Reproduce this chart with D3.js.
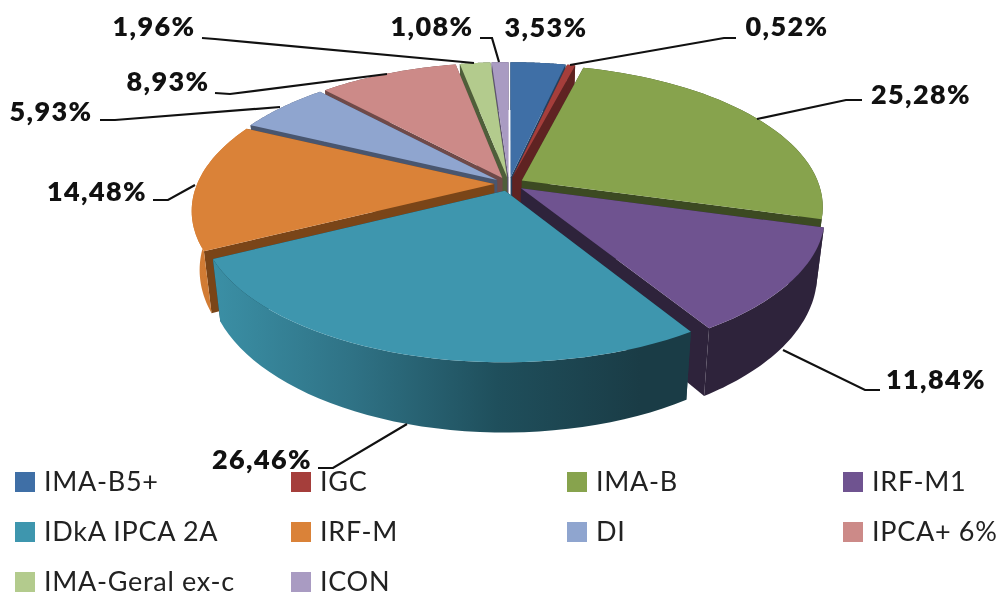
<!DOCTYPE html>
<html><head><meta charset="utf-8">
<script src="https://cdn.jsdelivr.net/npm/d3@7"></script>
<style>html,body{margin:0;padding:0;background:#fff;overflow:hidden}svg{display:block;filter:blur(.7px)}text{font-family:Lato,"Open Sans",sans-serif}</style>
</head><body><svg id="c" width="998" height="592"></svg>
<script>
const categories=["IMA-B5+","IGC","IMA-B","IRF-M1","IDkA IPCA 2A","IRF-M","DI","IPCA+ 6%","IMA-Geral ex-c","ICON"];
const values=[3.53,0.52,25.28,11.84,26.46,14.48,5.93,8.93,1.96,1.08];
const valueLabels=["3,53%","0,52%","25,28%","11,84%","26,46%","14,48%","5,93%","8,93%","1,96%","1,08%"];
const topColors=["#3f6fa6","#a53e3b","#87a34d","#6f5390","#3e96ae","#da8238","#8fa5cf","#cc8a88","#b3cb8d","#a99bc2"];
const wallColors=["#24405f","#5f2322","#3c4a22","#2e233b","#1a3c46","#7a4518","#49566f","#6f4a49","#4f5e3a","#5d5370"];
const paintOrder=[0,9,1,8,7,6,2,5,3,4];
// label layout: text anchor point, leader elbow, leader end
const labelLayout=[
 {x:546,y:28},
 {x:787,y:27,l:[[736,38],[724,38],[570,65]]},
 {x:921,y:95,l:[[862,100],[846,100],[757,119]]},
 {x:936,y:380,l:[[880,390],[865,390],[783,350]]},
 {x:262,y:460,l:[[318,468],[333,468],[407,424]]},
 {x:97,y:192,l:[[153,200],[168,200],[195,185]]},
 {x:51,y:112,l:[[100,120],[115,120],[280,107]]},
 {x:168,y:82,l:[[215,93],[230,94],[387,74]]},
 {x:154,y:27,l:[[202,38],[215,39],[474,63]]},
 {x:432,y:27,l:[[480,38],[492,38],[499,62]]}
];
const cx=509,cy=184,Rx=297,Ry=138,K=0.18,D=57,explode=0.05,shrink=0.975;
const svg=d3.select("#c");
const arcs=d3.pie().sort(null).value(d=>d).startAngle(0).endAngle(2*Math.PI)(values);
const defs=svg.append("defs");
const sideStops={4:["#3b90a6","#2f7285","#1f4f5c","#1a3c46"],5:["#d27c34","#c06f2c"],3:["#2e233b","#2e233b"]};
Object.entries(sideStops).forEach(([i,st])=>{
  const g=defs.append("linearGradient").attr("id","side"+i).attr("gradientUnits","userSpaceOnUse").attr("x1",i==4?210:185).attr("x2",i==4?640:830).attr("y1",0).attr("y2",0);
  st.forEach((c,j)=>g.append("stop").attr("offset",j/(st.length-1)).attr("stop-color",c));
});
function proj(t,r,m,low){
  const u=r*Math.sin(t)+explode*Math.sin(m), v=-r*Math.cos(t)-explode*Math.cos(m);
  const s=1/(1-K*v);
  let x=Rx*u*s,y=Ry*v*s;
  if(low){x*=shrink;y+=D*s;}
  return [cx+x,cy+y];
}
const line=d3.line().curve(d3.curveLinear);
const g=svg.append("g");
paintOrder.forEach(i=>{
  const a=arcs[i],m=(a.startAngle+a.endAngle)/2;
  const ts=d3.range(0,41).map(k=>a.startAngle+(a.endAngle-a.startAngle)*k/40);
  const wall=(t)=>line([proj(0,0,m,false),proj(t,1,m,false),proj(t,1,m,true),proj(0,0,m,true)])+"Z";
  g.append("path").attr("d",wall(a.startAngle)).attr("fill",wallColors[i]);
  g.append("path").attr("d",wall(a.endAngle)).attr("fill",wallColors[i]);
  const side=ts.map(t=>proj(t,1,m,false)).concat(ts.slice().reverse().map(t=>proj(t,1,m,true)));
  g.append("path").attr("d",line(side)+"Z").attr("fill",sideStops[i]?`url(#side${i})`:wallColors[i]);
  const top=[proj(0,0,m,false)].concat(ts.map(t=>proj(t,1,m,false)));
  g.append("path").attr("d",line(top)+"Z").attr("fill",topColors[i]);
});
const lab=svg.append("g");
labelLayout.forEach((p,i)=>{
  if(p.l) lab.append("path").attr("d",line(p.l)).attr("fill","none").attr("stroke","#111").attr("stroke-width",2.2);
});
labelLayout.forEach((p,i)=>{
  lab.append("text").attr("x",p.x).attr("y",p.y).attr("dy","0.35em").attr("text-anchor","middle").attr("font-size",27).attr("font-weight",800).attr("letter-spacing",1.4).attr("fill","#111").text(valueLabels[i]);
});
const colX=d3.scalePoint().domain([0,1,2,3]).range([15,843]);
const rowY=d3.scalePoint().domain([0,1,2]).range([472,572]);
const leg=svg.append("g");
categories.forEach((c,i)=>{
  const x=colX(i%4),y=rowY(Math.floor(i/4));
  leg.append("rect").attr("x",x).attr("y",y).attr("width",20).attr("height",20).attr("fill",topColors[i]);
  leg.append("text").attr("x",x+29).attr("y",y+9.5).attr("dy","0.35em").attr("font-size",27).attr("letter-spacing",0.7).attr("fill","#222").text(c);
});
</script></body></html>
